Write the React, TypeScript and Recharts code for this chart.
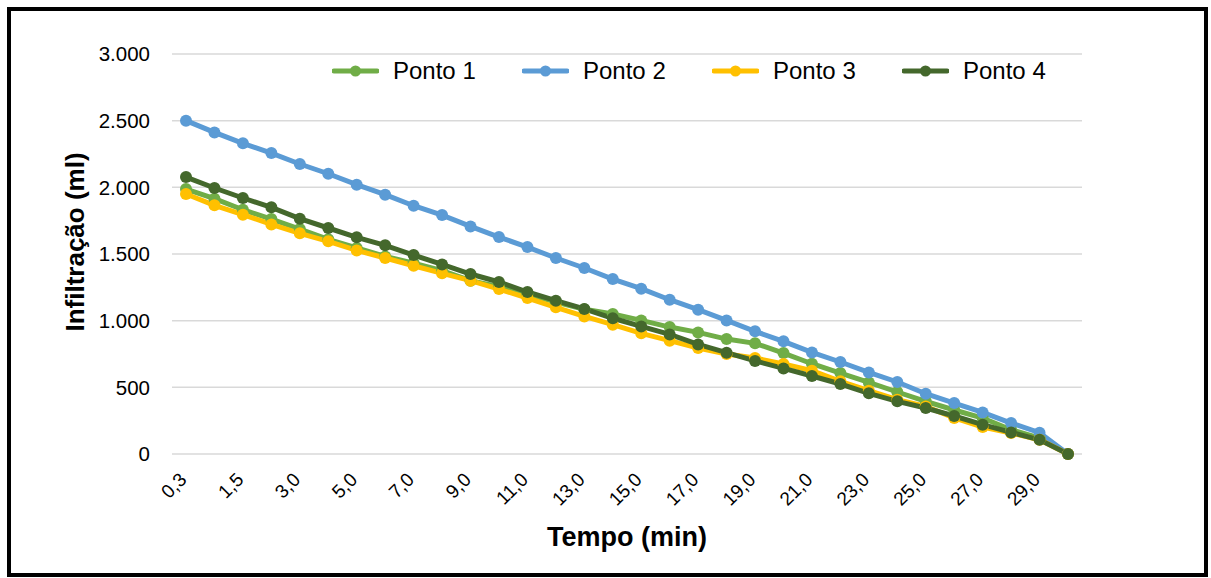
import { LineChart, Line, XAxis, YAxis, CartesianGrid, Legend } from 'recharts'

const tempo = [
  '0,3', '1,0', '1,5', '2,0', '3,0', '4,0', '5,0', '6,0', '7,0', '8,0', '9,0',
  '10,0', '11,0', '12,0', '13,0', '14,0', '15,0', '16,0', '17,0', '18,0', '19,0',
  '20,0', '21,0', '22,0', '23,0', '24,0', '25,0', '26,0', '27,0', '28,0', '29,0', '30,0',
]

const ponto1 = [1987, 1915, 1832, 1762, 1687, 1610, 1545, 1482, 1432, 1375, 1300, 1255, 1200, 1140, 1085, 1050,
  1002, 952, 912, 862, 830, 757, 677, 607, 537, 465, 395, 330, 270, 182, 120, 0]
const ponto2 = [2500, 2412, 2330, 2257, 2175, 2102, 2020, 1945, 1862, 1792, 1707, 1627, 1552, 1470, 1395, 1312,
  1240, 1157, 1082, 1002, 920, 845, 762, 690, 612, 540, 452, 382, 312, 232, 160, 0]
const ponto3 = [1950, 1865, 1795, 1722, 1655, 1595, 1527, 1470, 1412, 1355, 1300, 1237, 1170, 1100, 1032, 970,
  905, 850, 795, 750, 720, 675, 625, 545, 475, 407, 357, 270, 202, 157, 107, 0]
const ponto4 = [2077, 1995, 1920, 1850, 1765, 1695, 1625, 1565, 1492, 1422, 1350, 1290, 1215, 1150, 1088, 1018,
  957, 897, 822, 760, 698, 642, 585, 525, 455, 395, 345, 285, 220, 162, 107, 0]

const yTicks = [0, 500, 1000, 1500, 2000, 2500, 3000]

const series = [
  { key: 'p1', name: 'Ponto 1', color: '#70AD47' },
  { key: 'p2', name: 'Ponto 2', color: '#5B9BD5' },
  { key: 'p3', name: 'Ponto 3', color: '#FFC000' },
  { key: 'p4', name: 'Ponto 4', color: '#44682C' },
]

const data = tempo.map((t, i) => ({ t, p1: ponto1[i], p2: ponto2[i], p3: ponto3[i], p4: ponto4[i] }))

const font = '"Liberation Sans", Arial, sans-serif'

const fmt = (v: number) => v.toLocaleString('de-DE')

function XTick({ x, y, payload }: any) {
  return (
    <g transform={`translate(${x - 3},${y + 14})`}>
      <text transform="rotate(-45)" textAnchor="end" dy="0.35em" fontSize={19} fontFamily={font} fill="#000">
        {payload.value}
      </text>
    </g>
  )
}

function LegendBox() {
  return (
    <div style={{ display: 'flex', fontFamily: font, fontSize: 24, color: '#000' }}>
      {series.map(s => (
        <div key={s.key} style={{ display: 'flex', alignItems: 'center', width: 190 }}>
          <svg width={47} height={14} style={{ marginRight: 14 }}>
            <line x1={2} y1={7} x2={45} y2={7} stroke={s.color} strokeWidth={5} strokeLinecap="round" />
            <circle cx={23.5} cy={7} r={5.5} fill={s.color} />
          </svg>
          <span>{s.name}</span>
        </div>
      ))}
    </div>
  )
}

export default function App() {
  return (
    <div style={{
      position: 'absolute', left: 7, top: 7, width: 1201, height: 570,
      border: '4px solid #000', boxSizing: 'border-box', background: '#fff',
    }}>
      <LineChart width={1193} height={562} data={data} margin={{ top: 43, right: 122, left: 101, bottom: 59 }}>
        <CartesianGrid vertical={false} stroke="#D9D9D9" strokeWidth={1.5} />
        <XAxis
          dataKey="t"
          interval={1}
          axisLine={false}
          tickLine={false}
          height={60}
          padding={{ left: 14, right: 14 }}
          tick={<XTick />}
          label={{
            content: ({ viewBox }: any) => (
              <text x={viewBox.x + viewBox.width / 2} y={viewBox.y + 92} textAnchor="middle"
                fontSize={27} fontWeight="bold" fontFamily={font} fill="#000">Tempo (min)</text>
            ),
          }}
        />
        <YAxis
          domain={[0, 3000]}
          ticks={yTicks}
          tickFormatter={fmt}
          axisLine={false}
          tickLine={false}
          width={60}
          tickMargin={16}
          tick={{ fontSize: 20.5, fontFamily: font, fill: '#000' }}
          label={{
            content: ({ viewBox }: any) => {
              const cx = viewBox.x - 37
              const cy = viewBox.y + viewBox.height / 2 - 12
              return (
                <text x={cx} y={cy} transform={`rotate(-90, ${cx}, ${cy})`} textAnchor="middle" dy="0.35em"
                  fontSize={26} fontWeight="bold" fontFamily={font} fill="#000">Infiltração (ml)</text>
              )
            },
          }}
        />
        <Legend
          verticalAlign="middle"
          align="center"
          content={<LegendBox />}
          wrapperStyle={{ top: 46, left: 321, width: 800 }}
        />
        {series.map(s => (
          <Line
            key={s.key}
            dataKey={s.key}
            name={s.name}
            stroke={s.color}
            strokeWidth={5}
            dot={{ r: 6, fill: s.color, stroke: s.color, strokeWidth: 0 }}
            activeDot={false}
            isAnimationActive={false}
          />
        ))}
      </LineChart>
    </div>
  )
}
